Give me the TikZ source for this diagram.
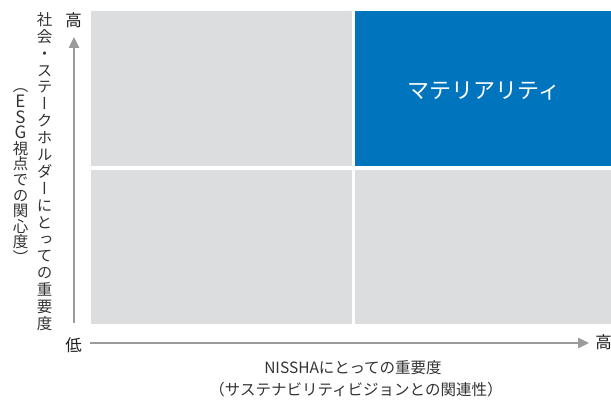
\documentclass[tikz,border=0pt]{standalone}
\usepackage{fontspec}
\setmainfont{Noto Sans CJK JP}
\newfontfamily\vjp[RawFeature={+vert}]{Noto Sans CJK JP}
\usetikzlibrary{arrows.meta}
\definecolor{quadgray}{HTML}{DCDDDE}
\definecolor{matblue}{HTML}{0075BE}
\definecolor{axisgray}{HTML}{9B9B9B}
\definecolor{txt}{HTML}{333333}
\definecolor{endtxt}{HTML}{1E1E1E}
\tikzset{
  quad/.style={fill=quadgray, draw=none},
  axisline/.style={draw=axisgray, line width=1.1pt, -{Triangle[length=11pt,width=10.5pt]}},
  lbl/.style={text=txt, inner sep=0pt, font=\fontsize{15.5}{18}\selectfont},
  endlbl/.style={text=endtxt, inner sep=0pt, font=\fontsize{16.5}{18}\selectfont},
  vch/.style={text=txt, inner sep=0pt, text height=13.5pt, text depth=1.8pt, font=\vjp\fontsize{15.5}{18}\selectfont},
}
\begin{document}
\begin{tikzpicture}[x=1pt,y=-1pt]
\useasboundingbox (0,0) rectangle (611,401);
% quadrants
\fill[quad] (91,11) rectangle (352,166);
\fill[matblue] (355,11) rectangle (611,166);
\fill[quad] (91,170) rectangle (352,324);
\fill[quad] (355,170) rectangle (611,324);
\node[text=white, inner sep=0pt, font=\fontsize{22}{24}\selectfont] (mat) at (484,91) {マテリアリティ};
% axes
\coordinate (ybot) at (74,323);
\coordinate (ytop) at (74,37);
\coordinate (xleft) at (90,343);
\coordinate (xright) at (589,343);
\draw[axisline] (ybot) -- (ytop);
\draw[axisline] (xleft) -- (xright);
\node[endlbl] (yhigh) at (73.5,20.5) {高};
\node[endlbl] (ylow) at (73.5,345.5) {低};
\node[endlbl] (xhigh) at (603.5,342) {高};
% x-axis title
\node[lbl] (xt1) at (353,368) {NISSHAにとっての重要度};
\node[lbl] (xt2) at (356,390) {（サステナビリティビジョンとの関連性）};
% y-axis title, column 1
\foreach \c [count=\i] in {社,会,・,ス,テ,ー,ク,ホ,ル,ダ,ー,に,と,っ,て,の,重,要,度}
  \node[vch] (ya\i) at (44.5,{19.5+(\i-1)*16.9}) {\c};
% column 2
\foreach \c [count=\i] in {（,E,S,G,視,点,で,の,関,心,度,）}
  \node[vch] (yb\i) at (20.5,{86+(\i-1)*15.6}) {\ifnum\i>1 \ifnum\i<5 \fontsize{17}{18}\selectfont\fi\fi\c};
\end{tikzpicture}
\end{document}
